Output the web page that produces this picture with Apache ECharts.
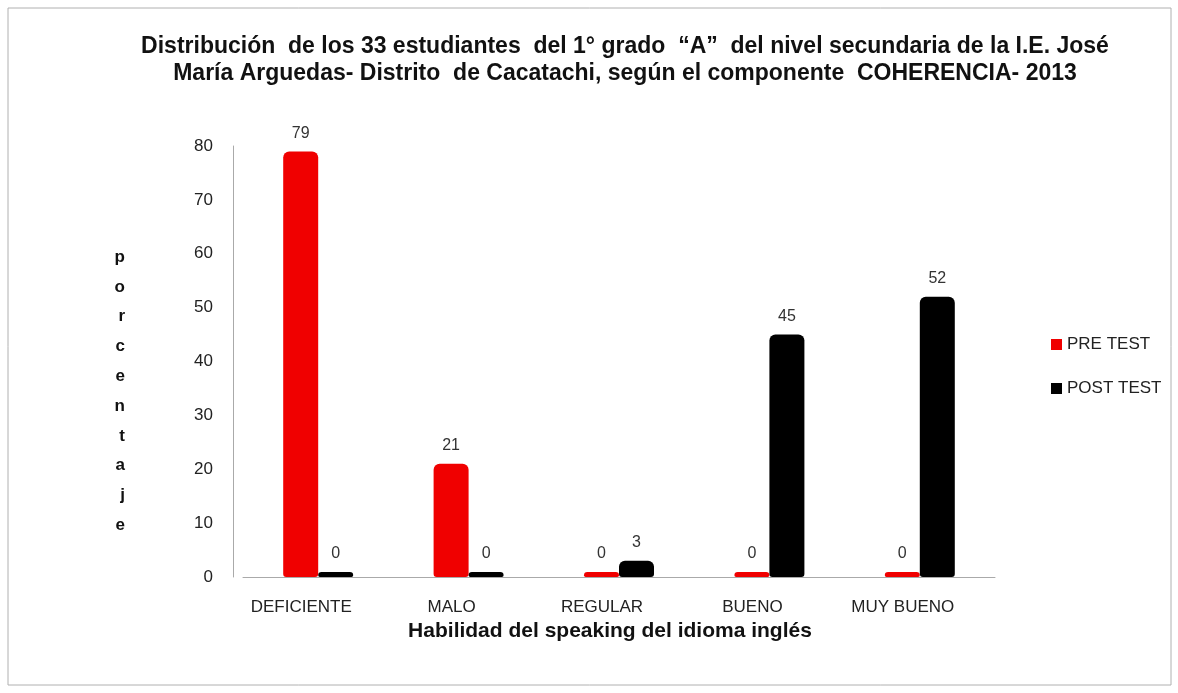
<!DOCTYPE html>
<html>
<head>
<meta charset="utf-8">
<script src="https://cdn.jsdelivr.net/npm/echarts@6/dist/echarts.min.js"></script>
<style>
  html, body { margin: 0; padding: 0; background: #fff; }
  #main { width: 1178px; height: 693px; }
</style>
</head>
<body>
<div id="main"></div>
<script>
// datos
var categorias = ['DEFICIENTE', 'MALO', 'REGULAR', 'BUENO', 'MUY BUENO'];
var preTest = [79, 21, 0, 0, 0];
var postTest = [0, 0, 3, 45, 52];
var ejeY = 'porcentaje';

var myChart = echarts.init(document.getElementById('main'));

var etiqueta = {
    show: true,
    position: 'top',
    distance: 10,
    color: '#333',
    fontSize: 16,
    fontFamily: 'Liberation Sans'
};

var option = {
    backgroundColor: '#fff',
    animation: false,
    title: {
        text: 'Distribución  de los 33 estudiantes  del 1° grado  “A”  del nivel secundaria de la I.E. José\nMaría Arguedas- Distrito  de Cacatachi, según el componente  COHERENCIA- 2013',
        left: 620,
        top: 28,
        textAlign: 'center',
        textStyle: {
            fontFamily: 'Liberation Sans',
            fontWeight: 'bold',
            fontSize: 23,
            lineHeight: 27,
            color: '#111'
        }
    },
    graphic: [{
        type: 'rect',
        shape: { x: 8, y: 8, width: 1163, height: 677 },
        style: { fill: 'none', stroke: '#b0b0b0', lineWidth: 1 }
    }],
    legend: {
        orient: 'vertical',
        left: 1046,
        top: 331,
        itemGap: 27,
        itemWidth: 11,
        itemHeight: 11,
        icon: 'rect',
        textStyle: { fontSize: 17, color: '#222', fontFamily: 'Liberation Sans' },
        data: ['PRE TEST', 'POST TEST']
    },
    grid: {
        left: 243,
        right: 183,
        top: 146,
        bottom: 116
    },
    xAxis: {
        type: 'category',
        data: categorias,
        name: 'Habilidad del speaking del idioma inglés',
        nameLocation: 'middle',
        nameGap: 32,
        nameTextStyle: {
            fontFamily: 'Liberation Sans',
            fontWeight: 'bold',
            fontSize: 21,
            color: '#111',
            padding: [0, 18, 0, 0]
        },
        axisLine: { lineStyle: { color: '#aaa' } },
        axisTick: { show: false },
        axisLabel: {
            margin: 22,
            fontSize: 17,
            color: '#222',
            fontFamily: 'Liberation Sans',
            padding: [0, 34, 0, 0]
        }
    },
    yAxis: {
        type: 'value',
        min: 0,
        max: 80,
        interval: 10,
        offset: 10,
        name: '\n\n' + ejeY.split('').join('\n'),
        nameLocation: 'middle',
        nameRotate: 0,
        nameGap: 108,
        nameTextStyle: {
            fontFamily: 'Liberation Sans',
            fontWeight: 'bold',
            fontSize: 17,
            lineHeight: 29.8,
            color: '#111'
        },
        axisLine: { show: true, lineStyle: { color: '#aaa' } },
        axisTick: { show: false },
        splitLine: { show: false },
        axisLabel: {
            margin: 20,
            fontSize: 17,
            color: '#222',
            fontFamily: 'Liberation Sans'
        }
    },
    series: [{
        name: 'PRE TEST',
        type: 'bar',
        data: preTest,
        barWidth: 35,
        barGap: '0%',
        barMinHeight: 5,
        itemStyle: { color: '#f00000', borderRadius: [6, 6, 3, 3] },
        label: etiqueta
    }, {
        name: 'POST TEST',
        type: 'bar',
        data: postTest,
        barWidth: 35,
        barMinHeight: 5,
        itemStyle: { color: '#000', borderRadius: [6, 6, 3, 3] },
        label: etiqueta
    }]
};

myChart.setOption(option);
</script>
</body>
</html>
